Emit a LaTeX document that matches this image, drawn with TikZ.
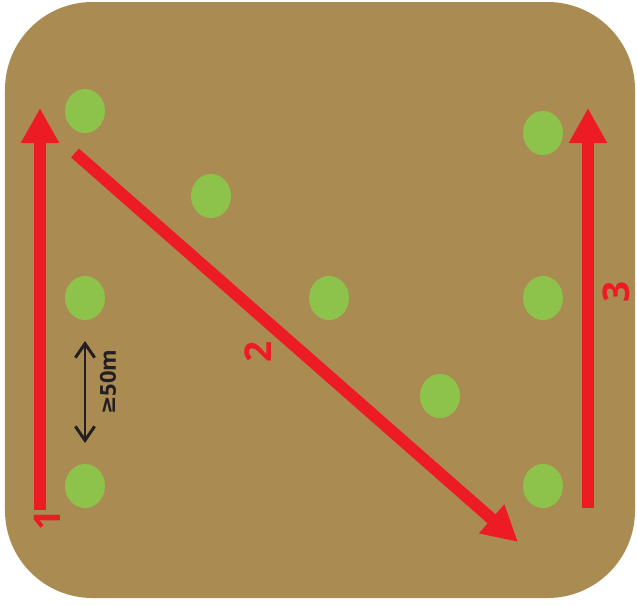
\documentclass[tikz,border=0pt]{standalone}
\usepackage{fontspec}
\setmainfont{Open Sans}
\newfontfamily\symfont{DejaVu Sans}
\usetikzlibrary{arrows.meta,positioning,shapes.geometric}
\definecolor{Field}{HTML}{AA8C53}
\definecolor{Tree}{HTML}{8DC34A}
\definecolor{Route}{HTML}{ED1C24}
\definecolor{Ink}{HTML}{231F20}
\tikzset{
  tree/.style={ellipse, fill=Tree, inner sep=0pt, minimum width=0.8cm, minimum height=0.88cm},
  route/.style={-{Triangle[length=20pt,width=20.5pt]}, line width=6.8pt, color=Route},
  routelbl/.style={rotate=90, inner sep=1pt, text=Route, font=\fontsize{21}{24}\selectfont\bfseries},
  gaparr/.style={{Straight Barb[length=8pt,width=11pt]}-{Straight Barb[length=8pt,width=11pt]}, line width=1.7pt, color=Ink},
}

\begin{document}
\begin{tikzpicture}[x=0.02cm, y=-0.02cm]
  \useasboundingbox (0,0) rectangle (637,606);
  % field
  \fill[Field, rounded corners=1.75cm] (5,2) rectangle (635,598);
  % trees
  \node[tree] (t1) at (85,111) {};
  \node[tree] (t2) at (211,196) {};
  \node[tree] (t3) at (85,298) {};
  \node[tree] (t4) at (329,298) {};
  \node[tree] (t5) at (440,396) {};
  \node[tree] (t6) at (85,486) {};
  \node[tree] (t7) at (543,133) {};
  \node[tree] (t8) at (543,298) {};
  \node[tree] (t9) at (543,486) {};
  % route ends
  \coordinate (r1s) at (40,510);
  \coordinate (r1e) at (40,108);
  \coordinate (r2s) at (75,153);
  \coordinate (r2e) at (518,542);
  \coordinate (r3s) at (588,508);
  \coordinate (r3e) at (588,108);
  \draw[route] (r1s) -- (r1e);
  \draw[route] (r2s) -- (r2e);
  \draw[route] (r3s) -- (r3e);
  \node[routelbl] (n1) at (47,520) {1};
  \node[routelbl] (n2) at (258,352) {2};
  \node[routelbl] (n3) at (616,292) {3};
  % spacing
  \coordinate (ga) at (85,341);
  \coordinate (gb) at (85,443);
  \draw[gaparr] (ga) -- (gb);
  \node[rotate=90, text=Ink, font=\fontsize{12.5}{14}\selectfont\bfseries] (gap) at (108,382) {{\symfont ≥}50m};
\end{tikzpicture}
\end{document}
